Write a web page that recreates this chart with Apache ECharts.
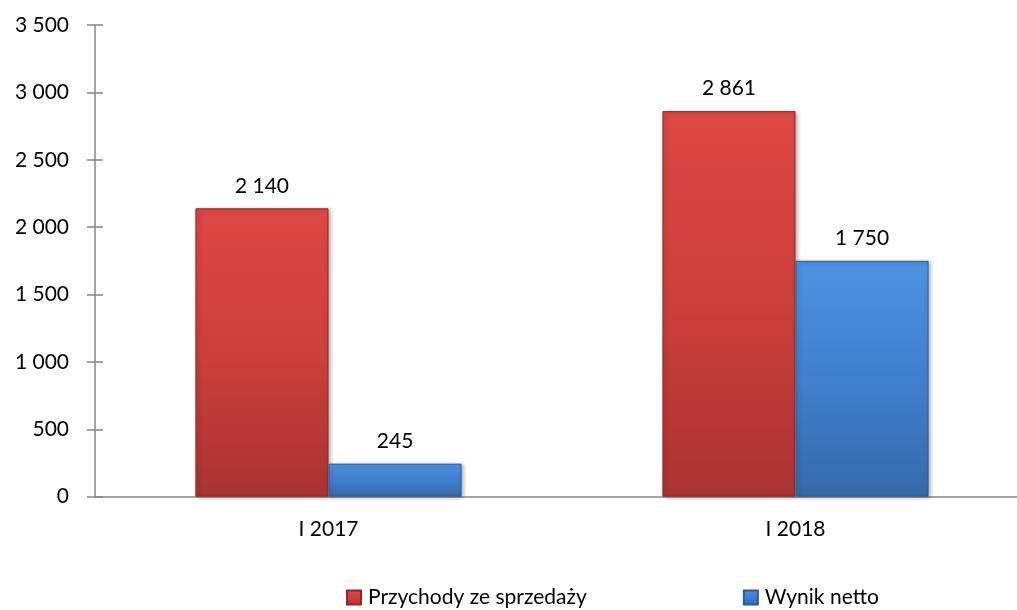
<!DOCTYPE html>
<html><head><meta charset="utf-8">
<script src="https://cdn.jsdelivr.net/npm/echarts@6/dist/echarts.min.js"></script>
<style>html,body{margin:0;padding:0;background:#fff}#c{width:1017px;height:610px}</style>
</head><body><div id="c"></div>
<script>
var categories = ['I 2017', 'I 2018'];
var seriesNames = ['Przychody ze sprzedaży', 'Wynik netto'];
var przychody = [2140, 2861];
var wynik = [245, 1750];
var yTicks = [0, 500, 1000, 1500, 2000, 2500, 3000, 3500];

function fmt(v){ return String(v).replace(/\B(?=(\d{3})+(?!\d))/g, ' '); }
var FONT = 'Lato';
var FS = 21;
var chart = echarts.init(document.getElementById('c'), null, {renderer:'canvas'});
function grad(top, mid, bot){
  return new echarts.graphic.LinearGradient(0,0,0,1,[{offset:0,color:top},{offset:0.5,color:mid},{offset:1,color:bot}]);
}
var axisCol = '#868686';
chart.setOption({
  animation:false,
  grid:{left:95, top:25, right:-12, bottom:113.3, outerBoundsMode:'none', containLabel:false},
  legend:{
    bottom:-3, left:341, itemGap:156, itemWidth:14, itemHeight:14, icon:'rect',
    textStyle:{fontFamily:FONT, fontSize:FS, color:'#000', padding:[0,0,0,2]},
    data:seriesNames
  },
  xAxis:{
    type:'category', data:categories,
    axisLine:{lineStyle:{color:axisCol, width:1.5}},
    axisTick:{length:8, lineStyle:{color:axisCol, width:1.5}},
    axisLabel:{fontFamily:FONT, fontSize:FS, color:'#000', margin:22}
  },
  yAxis:[{
    type:'value', min:yTicks[0], max:yTicks[yTicks.length-1], interval:500,
    splitLine:{show:false},
    axisLine:{show:true, lineStyle:{color:axisCol, width:1.5}},
    axisTick:{show:true, length:8, lineStyle:{color:axisCol, width:1.5}},
    axisLabel:{fontFamily:FONT, fontSize:FS, color:'#000', margin:26, formatter:fmt, padding:[3,0,0,0]}
  },{
    type:'value', min:yTicks[0], max:yTicks[yTicks.length-1], interval:500, position:'left',
    splitLine:{show:false}, axisLine:{show:false},
    axisTick:{show:true, inside:true, length:8, lineStyle:{color:axisCol, width:1.5}},
    axisLabel:{show:false}
  }],
  series:[{
    name:seriesNames[0], type:'bar', data:przychody, barGap:'0%', barCategoryGap:'43%',
    itemStyle:{color:grad('#de4744','#cc3f3c','#a93331'), borderColor:'#8e2a28', borderWidth:1,
      shadowBlur:4, shadowOffsetX:2, shadowOffsetY:1, shadowColor:'rgba(0,0,0,0.3)'},
    label:{show:true, position:'top', distance:12, fontFamily:FONT, fontSize:FS, color:'#000', formatter:function(p){return fmt(p.value);}}
  },{
    name:seriesNames[1], type:'bar', data:wynik,
    itemStyle:{color:grad('#4d92e2','#3f80ce','#3669aa'), borderColor:'#2f5b93', borderWidth:1,
      shadowBlur:4, shadowOffsetX:2, shadowOffsetY:1, shadowColor:'rgba(0,0,0,0.3)'},
    label:{show:true, position:'top', distance:12, fontFamily:FONT, fontSize:FS, color:'#000', formatter:function(p){return fmt(p.value);}}
  }]
});
</script></body></html>
